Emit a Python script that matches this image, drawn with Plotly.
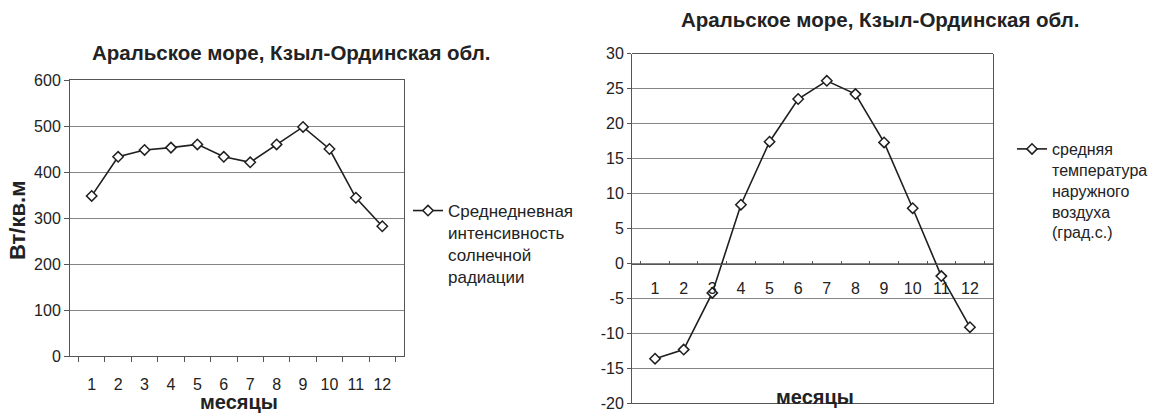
import plotly.graph_objects as go

# Monthly data for the Aral Sea area (Kzyl-Orda region)
months = ["1", "2", "3", "4", "5", "6", "7", "8", "9", "10", "11", "12"]
radiation = [348, 433, 448, 453, 460, 433, 421, 460, 498, 450, 344, 282]
temperature = [-13.6, -12.3, -4.2, 8.4, 17.4, 23.5, 26.1, 24.2, 17.3, 7.9, -1.8, -9.1]
temperature_ticks = [-20, -15, -10, -5, 0, 5, 10, 15, 20, 25, 30]

title_text = "Аральское море, Кзыл-Ординская обл."
radiation_name = "Среднедневная<br>интенсивность<br>солнечной<br>радиации"
temperature_name = "средняя<br>температура<br>наружного<br>воздуха<br>(град.с.)"

W, H = 1155, 414
FONT = "Liberation Sans, Arial, sans-serif"
INK = "#1f1f1f"
TXT = "#222222"
GRID = "#858585"
FRAME = "#555555"


def fx(px):
    return px / W


def fy(px):
    return (H - px) / H


left_x = [fx(70), fx(404)]
left_y = [fy(356), fy(80)]
right_x = [fx(632), fx(993)]
right_y = [fy(403.5), fy(53.5)]
t_min, t_max = temperature_ticks[0], temperature_ticks[-1]
# horizontal axis of the temperature chart crosses at 0 degrees
zero_pos = right_y[0] + (0 - t_min) / (t_max - t_min) * (right_y[1] - right_y[0])

line_style = dict(color=INK, width=1.6)
marker_style = dict(symbol="diamond", size=8, color="white", line=dict(color=INK, width=1.5))

fig = go.Figure()
fig.add_trace(go.Scatter(
    x=months, y=radiation, mode="lines+markers", name=radiation_name,
    line=line_style, marker=marker_style, xaxis="x", yaxis="y",
    legend="legend", showlegend=True,
))
fig.add_trace(go.Scatter(
    x=months, y=temperature, mode="lines+markers", name=temperature_name,
    line=line_style, marker=marker_style, xaxis="x2", yaxis="y2",
    legend="legend2", showlegend=True,
))

tickfont = dict(family=FONT, size=16, color=TXT)

fig.update_layout(
    width=W, height=H,
    # fixed frame: legends near the right edge must not shrink the plots
    margin=dict(l=0, r=0, t=0, b=0, autoexpand=False),
    paper_bgcolor="white", plot_bgcolor="white",
    font=dict(family=FONT, color=TXT),
    showlegend=True,
    xaxis=dict(
        domain=left_x, anchor="y", type="category", showgrid=False,
        showline=True, linecolor=FRAME, linewidth=1, mirror=True,
        ticks="outside", ticklen=5, tickcolor=FRAME, tickson="boundaries",
        tickfont=tickfont, tickangle=0, ticklabelstandoff=14,
    ),
    yaxis=dict(
        domain=left_y, anchor="x", range=[0, 600], dtick=100,
        showgrid=True, gridcolor=GRID, gridwidth=1, zeroline=False,
        showline=True, linecolor=FRAME, linewidth=1, mirror=True,
        ticks="outside", ticklen=5, tickcolor=FRAME, tickfont=tickfont,
    ),
    xaxis2=dict(
        domain=right_x, anchor="free", position=zero_pos, type="category",
        showgrid=False, showline=True, linecolor=FRAME, linewidth=1,
        ticks="inside", ticklen=3, tickcolor=FRAME, tickson="boundaries",
        tickfont=tickfont, tickangle=0, ticklabelstandoff=10,
    ),
    yaxis2=dict(
        domain=right_y, anchor="x2", range=[t_min, t_max],
        tickvals=temperature_ticks, ticktext=[str(t) for t in temperature_ticks],
        showgrid=True, gridcolor=GRID, gridwidth=1, zeroline=False,
        showline=True, linecolor=FRAME, linewidth=1, mirror=True,
        ticks="outside", ticklen=4, tickcolor=FRAME, tickfont=tickfont,
    ),
    legend=dict(
        x=fx(408), xanchor="left", y=fy(193), yanchor="top", valign="top",
        font=dict(family=FONT, size=17, color=TXT),
        bgcolor="rgba(0,0,0,0)", borderwidth=0,
    ),
    legend2=dict(
        x=fx(1012), xanchor="left", y=fy(132), yanchor="top", valign="top",
        font=dict(family=FONT, size=16, color=TXT),
        bgcolor="rgba(0,0,0,0)", borderwidth=0,
    ),
    shapes=[
        dict(type="line", xref="x2 domain", yref="y2 domain", x0=0, x1=1, y0=0, y1=0,
             line=dict(color=FRAME, width=1)),
        dict(type="line", xref="x2 domain", yref="y2 domain", x0=0, x1=1, y0=1, y1=1,
             line=dict(color=FRAME, width=1)),
    ],
)

bold = dict(family=FONT, color=TXT, weight="bold")
annotations = [
    dict(text=title_text, x=fx(291), y=fy(52), font=dict(bold, size=20.5)),
    dict(text=title_text, x=fx(880), y=fy(20), font=dict(bold, size=20.5)),
    dict(text="Вт/кв.м", x=fx(18), y=fy(221), textangle=-90, font=dict(bold, size=22)),
    dict(text="месяцы", x=fx(239), y=fy(402), font=dict(bold, size=20)),
    dict(text="месяцы", x=fx(815), y=fy(397), font=dict(bold, size=20)),
]
for a in annotations:
    fig.add_annotation(xref="paper", yref="paper", showarrow=False,
                       xanchor="center", yanchor="middle", **a)

fig.write_html("out.html")
